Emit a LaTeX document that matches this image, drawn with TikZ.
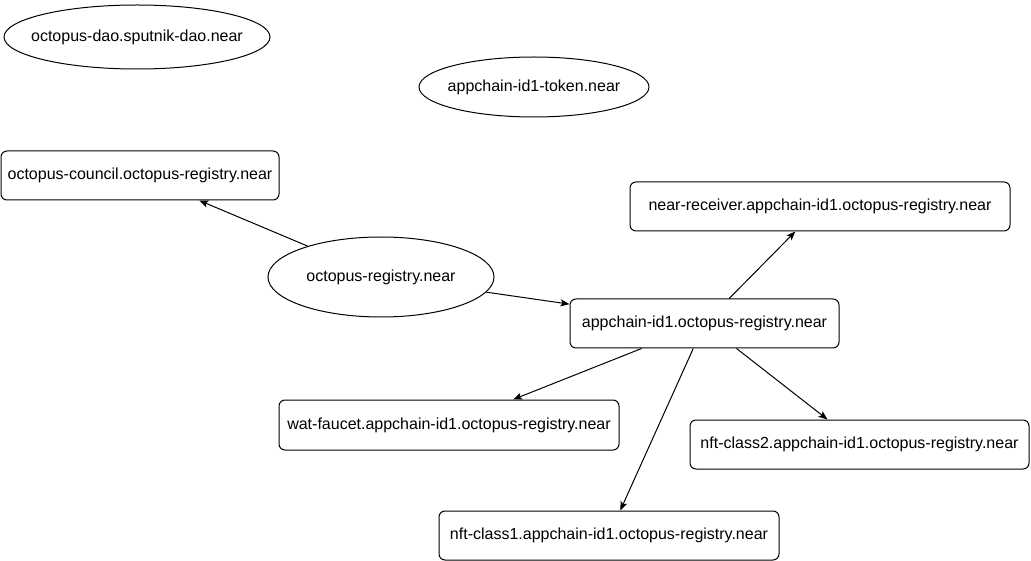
\documentclass[tikz,border=0pt]{standalone}
\usepackage{fontspec}
\setmainfont{Liberation Sans}
\usetikzlibrary{shapes.geometric,arrows.meta}
\begin{document}
\begin{tikzpicture}[x=1pt,y=-1pt,
  every node/.style={font=\fontsize{16}{19}\selectfont, inner sep=0pt, line width=1pt},
  every label/.style={font=\fontsize{16}{19}\selectfont, inner sep=0pt},
  ell/.style={draw, ellipse},
  box/.style={draw, rectangle, rounded corners=6pt},
  link/.style={draw, line width=1pt, -{Stealth[length=9pt,width=7pt,inset=2pt]}}]
\useasboundingbox (0,0) rectangle (1031,561);
\node[ell, minimum width=266pt, minimum height=64pt, label=center:{octopus-dao.sputnik-dao.near}] (dao) at (137,37) {};
\node[ell, minimum width=230pt, minimum height=60pt, label=center:{appchain-id1-token.near}] (token) at (534,87) {};
\node[box, minimum width=278pt, minimum height=49pt] (council) at (140,175.5) {octopus-council.octopus-registry.near};
\node[ell, minimum width=226pt, minimum height=80pt, label=center:{octopus-registry.near}] (reg) at (381,277) {};
\node[box, minimum width=380pt, minimum height=49pt] (recv) at (820,206.5) {near-receiver.appchain-id1.octopus-registry.near};
\node[box, minimum width=269pt, minimum height=49pt] (app) at (704.5,323.5) {appchain-id1.octopus-registry.near};
\node[box, minimum width=340pt, minimum height=50pt] (wat) at (449,425) {wat-faucet.appchain-id1.octopus-registry.near};
\node[box, minimum width=339pt, minimum height=49pt] (nft2) at (859.5,444.5) {nft-class2.appchain-id1.octopus-registry.near};
\node[box, minimum width=340pt, minimum height=49pt] (nft1) at (609,535.5) {nft-class1.appchain-id1.octopus-registry.near};
\draw[link] (reg) -- (council);
\draw[link] (reg) -- (app);
\draw[link] (app) -- (recv);
\draw[link] (app) -- (wat);
\draw[link] (app) -- (nft1);
\draw[link] (app) -- (nft2);
\end{tikzpicture}
\end{document}
